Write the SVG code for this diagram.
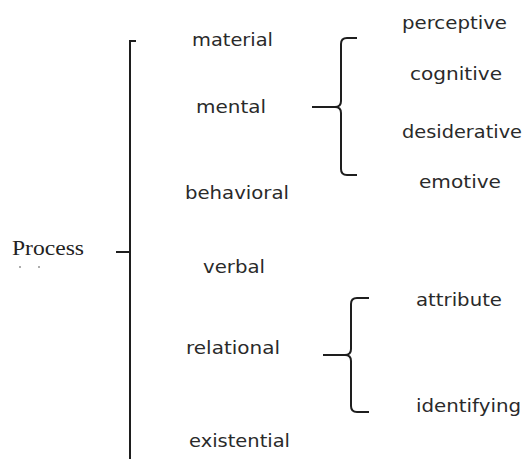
<svg xmlns="http://www.w3.org/2000/svg" width="525" height="459" viewBox="0 0 525 459">
<style>
.t{font-family:"DejaVu Sans","Liberation Sans",sans-serif;font-size:18.5px;fill:#2a2a2a}
.p{font-family:"Liberation Serif","Times New Roman",serif;font-size:21px;fill:#222}
.ln{fill:none;stroke:#1e1e1e;stroke-width:2;stroke-linecap:butt}
</style>
<rect width="525" height="459" fill="#fff"/>
<g id="connectors">
<path class="ln" d="M136,41 H130 V459"/>
<path class="ln" d="M116,252 H130"/>
<path class="ln" d="M357,38 H347 Q341,38 341,44 V101 Q341,107 335,107 H312 M335,107 Q341,107 341,113 V169 Q341,175 347,175 H357"/>
<path class="ln" d="M369,298 H357 Q351,298 351,304 V349 Q351,355 345,355 H323 M345,355 Q351,355 351,361 V406 Q351,412 357,412 H369"/>
</g>
<g id="process"><text class="p" x="12" y="255" textLength="72" lengthAdjust="spacingAndGlyphs">Process</text>
<circle cx="20" cy="267" r="0.8" fill="#444"/><circle cx="39" cy="267" r="0.8" fill="#444"/></g>
<g id="material"><text class="t" x="192" y="46" textLength="81" lengthAdjust="spacingAndGlyphs">material</text></g>
<g id="mental"><text class="t" x="196" y="113" textLength="70" lengthAdjust="spacingAndGlyphs">mental</text></g>
<g id="behavioral"><text class="t" x="185" y="199" textLength="104" lengthAdjust="spacingAndGlyphs">behavioral</text></g>
<g id="verbal"><text class="t" x="203" y="273" textLength="62" lengthAdjust="spacingAndGlyphs">verbal</text></g>
<g id="relational"><text class="t" x="186" y="354" textLength="94" lengthAdjust="spacingAndGlyphs">relational</text></g>
<g id="existential"><text class="t" x="189" y="447" textLength="101" lengthAdjust="spacingAndGlyphs">existential</text></g>
<g id="perceptive"><text class="t" x="402" y="29" textLength="105" lengthAdjust="spacingAndGlyphs">perceptive</text></g>
<g id="cognitive"><text class="t" x="410" y="80" textLength="92" lengthAdjust="spacingAndGlyphs">cognitive</text></g>
<g id="desiderative"><text class="t" x="402" y="138" textLength="120" lengthAdjust="spacingAndGlyphs">desiderative</text></g>
<g id="emotive"><text class="t" x="419" y="188" textLength="82" lengthAdjust="spacingAndGlyphs">emotive</text></g>
<g id="attribute"><text class="t" x="416" y="306" textLength="86" lengthAdjust="spacingAndGlyphs">attribute</text></g>
<g id="identifying"><text class="t" x="416" y="412" textLength="105" lengthAdjust="spacingAndGlyphs">identifying</text></g>
</svg>
